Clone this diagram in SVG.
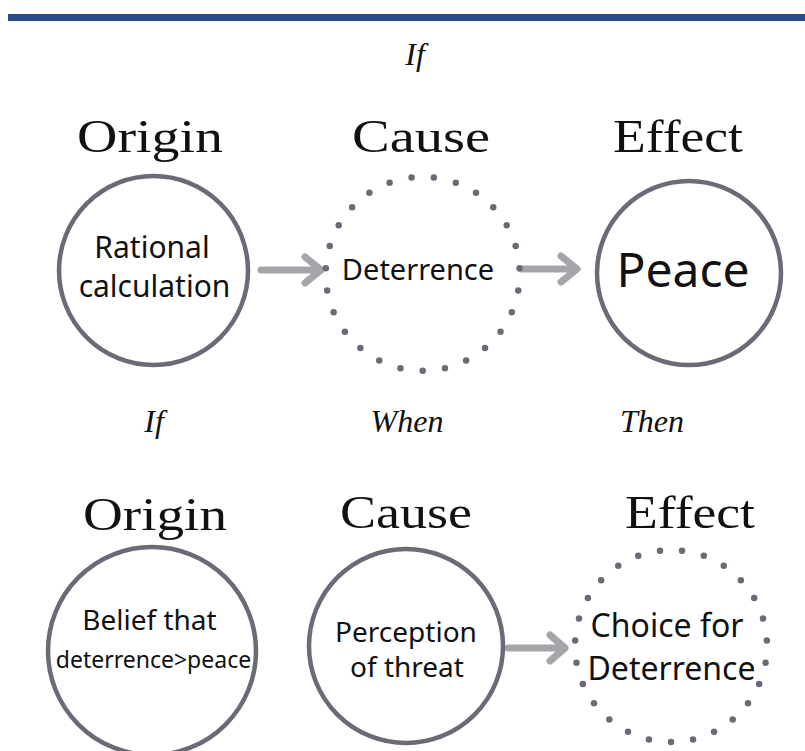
<svg xmlns="http://www.w3.org/2000/svg" width="805" height="751" viewBox="0 0 805 751">
  <style>
    .heading { font-family: "Liberation Serif", "DejaVu Serif", serif; font-size: 46px; fill: #111; text-anchor: middle; }
    .cue { font-family: "Liberation Serif", "DejaVu Serif", serif; font-style: italic; font-size: 32px; fill: #111; text-anchor: middle; }
    .label { font-family: "Noto Sans", "Open Sans", "DejaVu Sans", sans-serif; fill: #111; text-anchor: middle; }
    .ring { fill: #fff; stroke: #6b6b77; stroke-width: 4.5; }
    .dotted { fill: none; stroke: #6b6b77; stroke-width: 6.5; stroke-linecap: round; stroke-dasharray: 0 1; }
    .arrow { fill: none; stroke: #a5a5aa; stroke-width: 7; stroke-linecap: round; stroke-linejoin: round; }
  </style>

  <!-- header rule -->
  <rect x="8" y="14" width="797" height="7" fill="#274b8b"/>

  <!-- row cues -->
  <text class="cue" x="415" y="65">If</text>
  <text class="cue" x="154" y="432">If</text>
  <text class="cue" x="407" y="432">When</text>
  <text class="cue" x="652" y="432">Then</text>

  <!-- column headings -->
  <text class="heading" x="150" y="152" textLength="146" lengthAdjust="spacingAndGlyphs">Origin</text>
  <text class="heading" x="421" y="152" textLength="138" lengthAdjust="spacingAndGlyphs">Cause</text>
  <text class="heading" x="678" y="152" textLength="130" lengthAdjust="spacingAndGlyphs">Effect</text>
  <text class="heading" x="155" y="530" textLength="144" lengthAdjust="spacingAndGlyphs">Origin</text>
  <text class="heading" x="406" y="528" textLength="132" lengthAdjust="spacingAndGlyphs">Cause</text>
  <text class="heading" x="690" y="528" textLength="130" lengthAdjust="spacingAndGlyphs">Effect</text>

  <!-- connectors -->
  <g id="connectors">
    <path class="arrow" d="M261,270 H320 M305,257 L321,270 L305,283"/>
    <path class="arrow" d="M521,269 H576 M561,256 L577,269 L561,282"/>
    <path class="arrow" d="M508,648 H564 M550,635 L565,648 L550,661"/>
  </g>

  <!-- top row -->
  <g id="rational-calculation">
    <circle class="ring" cx="153.5" cy="270.5" r="94.5"/>
    <text class="label" x="152" y="258" font-size="30">Rational</text>
    <text class="label" x="154.5" y="297" font-size="30">calculation</text>
  </g>

  <g id="deterrence">
    <circle class="dotted" cx="422.7" cy="273.8" r="97" pathLength="27" transform="rotate(90 422.7 273.8)"/>
    <text class="label" x="418" y="280" font-size="29">Deterrence</text>
  </g>

  <g id="peace">
    <circle class="ring" cx="689" cy="273" r="92"/>
    <text class="label" x="683" y="287" font-size="48">Peace</text>
  </g>

  <!-- bottom row -->
  <g id="belief">
    <circle class="ring" cx="152" cy="651" r="104"/>
    <text class="label" x="149.5" y="630" font-size="28">Belief that</text>
    <text class="label" x="153.5" y="668" font-size="23">deterrence&gt;peace</text>
  </g>

  <g id="perception">
    <circle class="ring" cx="406" cy="646" r="97"/>
    <text class="label" x="406" y="642" font-size="28">Perception</text>
    <text class="label" x="407" y="677" font-size="28">of threat</text>
  </g>

  <g id="choice">
    <circle class="dotted" cx="671" cy="646" r="96" pathLength="27" transform="rotate(90 671 646)"/>
    <text class="label" x="667" y="637" font-size="32">Choice for</text>
    <text class="label" x="671.5" y="680" font-size="32">Deterrence</text>
  </g>
</svg>
